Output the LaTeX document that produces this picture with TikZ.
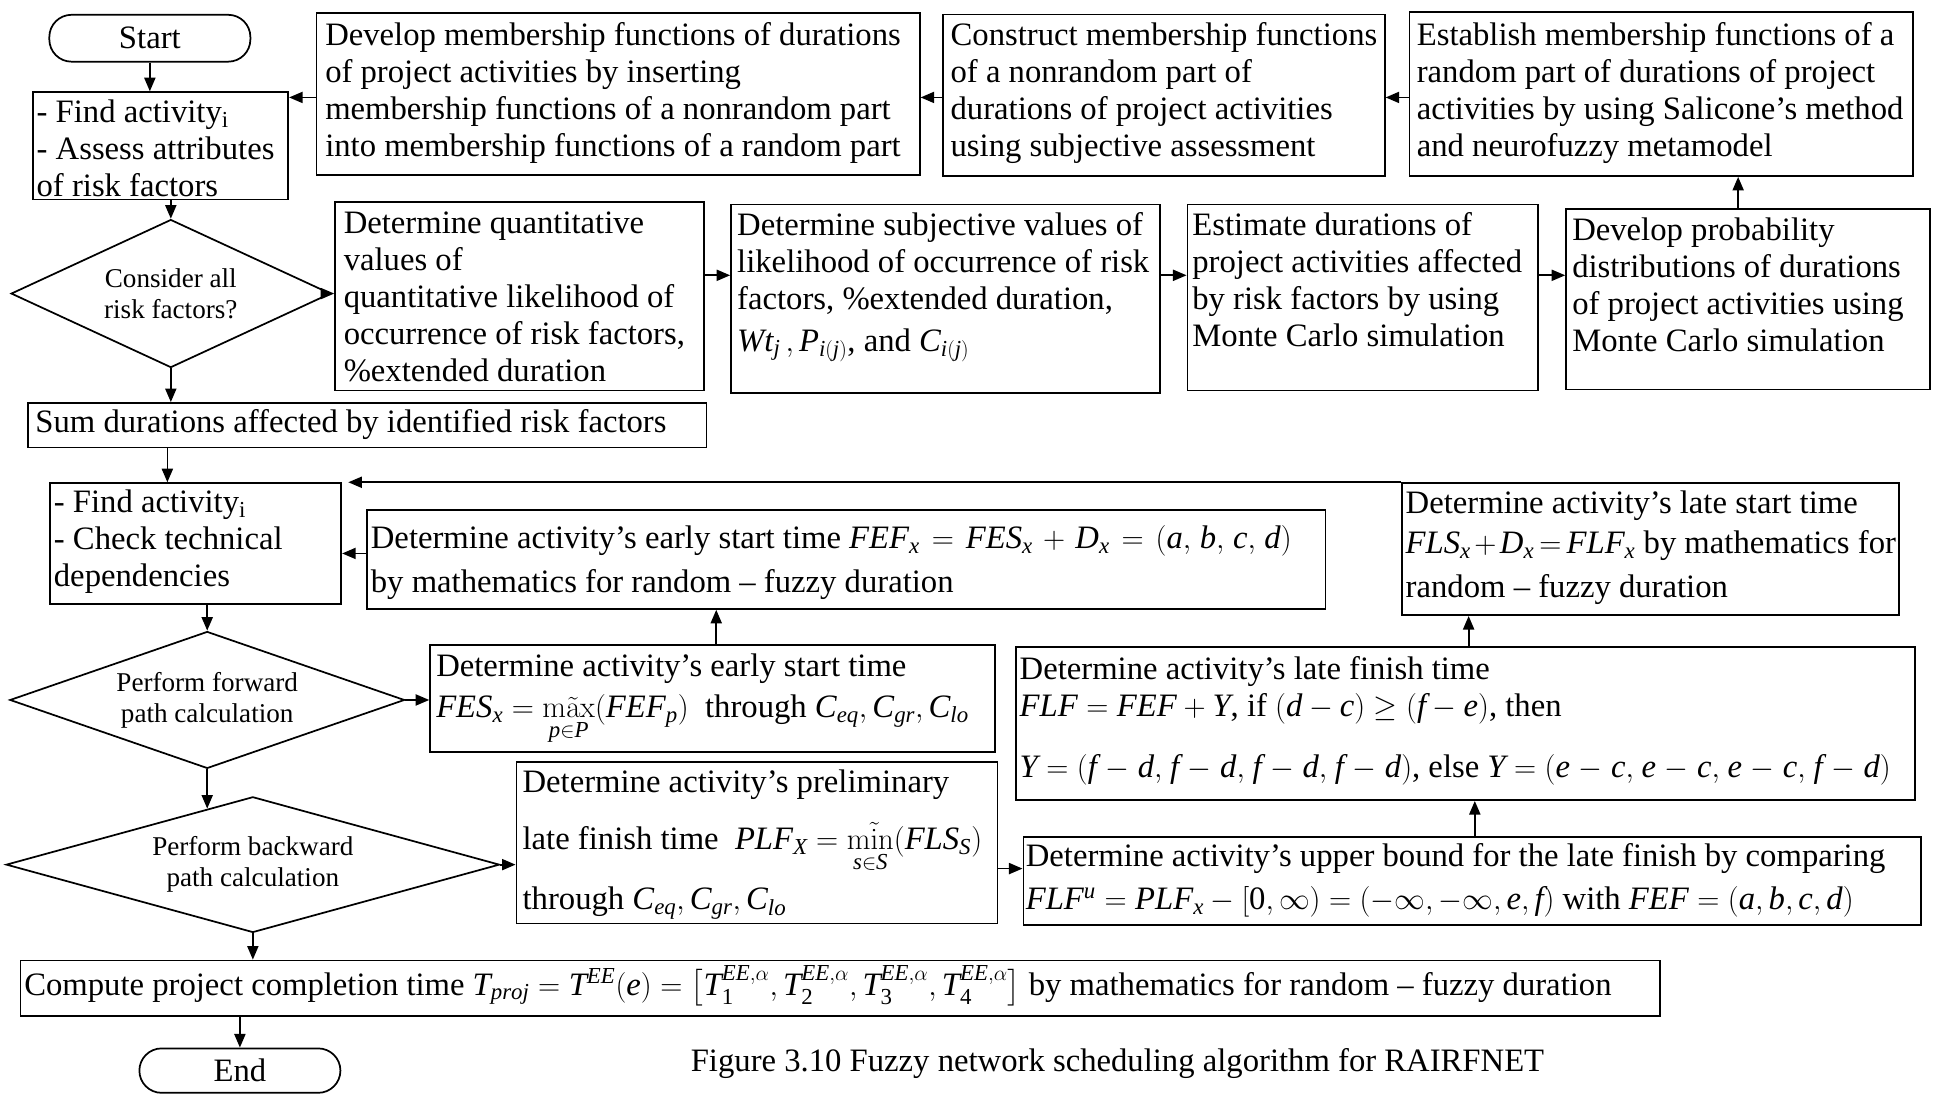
\documentclass[tikz,border=0pt]{standalone}
\usepackage{amsmath}
\usepackage[no-math]{fontspec}
\setmainfont{Liberation Serif}
\DeclareSymbolFont{tletters}{TU}{\rmdefault}{m}{it}
\DeclareSymbolFont{tdigits}{TU}{\rmdefault}{m}{n}
\newcount\lcnt
\lcnt=`a \loop \Umathcode\lcnt=7 \symtletters \lcnt \advance\lcnt by 1 \ifnum\lcnt<123 \repeat
\lcnt=`A \loop \Umathcode\lcnt=7 \symtletters \lcnt \advance\lcnt by 1 \ifnum\lcnt<91 \repeat
\lcnt=`0 \loop \Umathcode\lcnt=0 \symtdigits \lcnt \advance\lcnt by 1 \ifnum\lcnt<58 \repeat
\usetikzlibrary{arrows.meta,shapes.geometric}
\newcommand{\bxt}[3]{\parbox[c][#2][t]{#1}{\begin{tabular}[t]{@{}l@{}}#3\end{tabular}}}
\begin{document}
\begin{tikzpicture}[x=1pt,y=-1pt,
 every node/.style={font=\fontsize{26.5}{30}\selectfont},
 bx/.style={draw,line width=1.4pt,anchor=north west,inner sep=0pt},
 dia/.style={draw,diamond,line width=1.4pt,inner sep=0pt,align=center,font=\fontsize{22}{25}\selectfont},
 term/.style={draw,rectangle,rounded corners=18pt,line width=1.4pt,inner sep=0pt},
 arr/.style={line width=1.4pt,-{Triangle[length=11pt,width=9pt]}}]
\fill[white] (0,0) rectangle (1568,889);
\useasboundingbox (0,0) rectangle (1568,889);

% ---------- top rows
\node[term,minimum width=163pt,minimum height=38pt] (start) at (121.5,31) {Start};
\node[bx,inner xsep=3pt,inner ysep=4pt] (fa) at (26,74) {\bxt{201pt}{79pt}{- Find activity\textsubscript{i}\\- Assess attributes\\of risk factors}};
\node[bx,inner xsep=7pt,inner ysep=5pt] (dev) at (256,10) {\bxt{475pt}{121pt}{Develop membership functions of durations\\of project activities by inserting\\membership functions of a nonrandom part\\into membership functions of a random part}};
\node[bx,inner xsep=6pt,inner ysep=4pt] (con) at (764,11) {\bxt{346pt}{123pt}{Construct membership functions\\of a nonrandom part of\\durations of project activities\\using subjective assessment}};
\node[bx,inner xsep=6pt,inner ysep=6pt] (est) at (1142,9) {\bxt{396pt}{121pt}{Establish membership functions of a\\random part of durations of project\\activities by using Salicone’s method\\and neurofuzzy metamodel}};

\node[dia,minimum width=259pt,minimum height=120pt,aspect=2.16] (da) at (138.5,238) {Consider all\\risk factors?};
\node[bx,inner xsep=7pt,inner ysep=5pt] (qv) at (271,163) {\bxt{285pt}{143pt}{Determine quantitative\\values of\\quantitative likelihood of\\occurrence of risk factors,\\\%extended duration}};
\node[bx,inner xsep=5pt,inner ysep=4pt] (sv) at (592,165) {\bxt{338pt}{145pt}{Determine subjective values of\\likelihood of occurrence of risk\\factors, \%extended duration,\\[4pt]\smash{$Wt_j\,, P_{i(j)}$, and $C_{i(j)}$}}};
\node[bx,inner xsep=4pt,inner ysep=4pt] (ed) at (962,165) {\bxt{276pt}{143pt}{Estimate durations of\\project activities affected\\by risk factors by using\\Monte Carlo simulation}};
\node[bx,inner xsep=5pt,inner ysep=4pt] (pd) at (1269,169) {\bxt{285pt}{138pt}{Develop probability\\distributions of durations\\of project activities using\\Monte Carlo simulation}};

\node[bx,inner xsep=6pt,inner ysep=3pt] (sum) at (22,326) {\bxt{538pt}{30pt}{Sum durations affected by identified risk factors}};

% ---------- lower part
\node[bx,inner xsep=3pt,inner ysep=3pt] (fb) at (40,391) {\bxt{230pt}{92pt}{- Find activity\textsubscript{i}\\- Check technical\\dependencies}};
\node[bx,inner xsep=3pt,inner ysep=10pt] (ef) at (297,413) {\bxt{771pt}{60pt}{Determine activity’s early start time \smash{$\thickmuskip=7mu\medmuskip=6mu\thinmuskip=5mu FEF_x = FES_x + D_x = (a,b,c,d)$}\\[6pt]by mathematics for random – fuzzy duration}};
\node[bx,inner xsep=3pt,inner ysep=4pt] (ls) at (1136,391) {\bxt{397pt}{99pt}{Determine activity’s late start time\\[2pt]\smash{$\thickmuskip=3mu\medmuskip=2mu FLS_x + D_x = FLF_x$} by mathematics for\\[6pt]random – fuzzy duration}};
\node[dia,minimum width=320pt,minimum height=111pt,aspect=2.88] (db) at (168,567.5) {Perform forward\\path calculation};
\node[bx,inner xsep=5pt,inner ysep=5pt] (es) at (348,522) {\bxt{448pt}{77pt}{Determine activity’s early start time\\[3pt]\smash{$FES_x = \mathop{\mathrm{m\tilde{a}x}}\limits_{p\in P}(FEF_p)$} \ through \smash{$C_{eq},C_{gr},C_{lo}$}}};
\node[bx,inner xsep=3pt,inner ysep=5pt] (lf) at (823,524) {\bxt{723pt}{114pt}{Determine activity’s late finish time\\\smash{$FLF = FEF + Y$}, if \smash{$(d-c)\geq(f-e)$}, then\\[20pt]\smash{$\medmuskip=5mu\thinmuskip=4.5mu Y=(f-d,f-d,f-d,f-d)$}, else \smash{$\medmuskip=5mu\thinmuskip=4.5mu Y=(e-c,e-c,e-c,f-d)$}}};
\node[dia,minimum width=400pt,minimum height=110pt,aspect=3.64] (dc) at (205,701) {Perform backward\\path calculation};
\node[bx,inner xsep=5pt,inner ysep=4pt] (pl) at (418,617) {\bxt{380pt}{123pt}{Determine activity’s preliminary\\[16pt]late finish time \ \smash{$PLF_X = \mathop{\mathrm{m\tilde{i}n}}\limits_{s\in S}(FLS_S)$}\\[19pt]through \smash{$C_{eq},C_{gr},C_{lo}$}}};
\node[bx,inner xsep=2pt,inner ysep=3pt] (ub) at (829,678) {\bxt{724pt}{65pt}{Determine activity’s upper bound for the late finish by comparing\\[5pt]\smash{$FLF^u = PLF_x - [0,\infty) = (-\infty,-\infty,e,f)$} with \smash{$FEF=(a,b,c,d)$}}};
\node[bx,inner xsep=3pt,inner ysep=7pt] (cp) at (16,778) {\bxt{1323pt}{31pt}{Compute project completion time \smash{$T_{proj} = T^{EE}(e) = \bigl[T_1^{EE,\alpha}, T_2^{EE,\alpha}, T_3^{EE,\alpha}, T_4^{EE,\alpha}\bigr]$} by mathematics for random – fuzzy duration}};
\node[term,minimum width=163pt,minimum height=36pt] (stop) at (194.5,868) {End};
\node (cap) at (906,862) {Figure 3.10 Fuzzy network scheduling algorithm for RAIRFNET};

% ---------- connectors
\draw[arr] (start.south) -- (start.south |- fa.north);
\coordinate (a1) at ([yshift=-5pt]fa.north east);
\draw[arr] (a1 -| dev.west) -- (a1);
\draw[arr] (a1 -| con.west) -- (a1 -| dev.east);
\draw[arr] (a1 -| est.west) -- (a1 -| con.east);
\draw[arr] (da.north |- fa.south) -- (da.north);
\draw[arr] (da.east) -- (da.east -| qv.west);
\draw[arr] (da.south) -- (da.south |- sum.north);
\coordinate (a2) at ([yshift=19pt]sv.west);
\draw[arr] (a2 -| qv.east) -- (a2);
\draw[arr] (a2 -| sv.east) -- (a2 -| ed.west);
\draw[arr] (a2 -| ed.east) -- (a2 -| pd.west);
\coordinate (a3) at ([xshift=-8pt]pd.north);
\draw[arr] (a3) -- (a3 |- est.south);
\coordinate (a4) at ([xshift=-23pt]fb.north);
\draw[arr] (a4 |- sum.south) -- (a4);
\draw[arr] (ls.north west) -- ([xshift=5pt]fb.north east);
\draw[arr] ([yshift=5pt]ef.west) -- ([yshift=5pt]ef.west -| fb.east);
\draw[arr] (db.north |- fb.south) -- (db.north);
\draw[arr] (db.east) -- (db.east -| es.west);
\coordinate (a5) at ([xshift=3pt]es.north);
\draw[arr] (a5) -- (a5 |- ef.south);
\coordinate (a6) at (db.south |- dc.south);
\draw[arr] (db.south) -- (intersection of db.south--a6 and dc.north--dc.west);
\draw[arr] (dc.east) -- (dc.east -| pl.west);
\coordinate (a7) at ([yshift=-21pt]pl.east);
\draw[arr] (a7) -- (a7 -| ub.west);
\coordinate (a8) at ([xshift=2pt]ub.north);
\draw[arr] (a8) -- (a8 |- lf.south);
\coordinate (a9) at ([xshift=2.5pt]lf.north);
\draw[arr] (a9) -- (a9 |- ls.south);
\draw[arr] (dc.south) -- (dc.south |- cp.north);
\draw[arr] (stop.north |- cp.south) -- (stop.north);
\end{tikzpicture}
\end{document}
